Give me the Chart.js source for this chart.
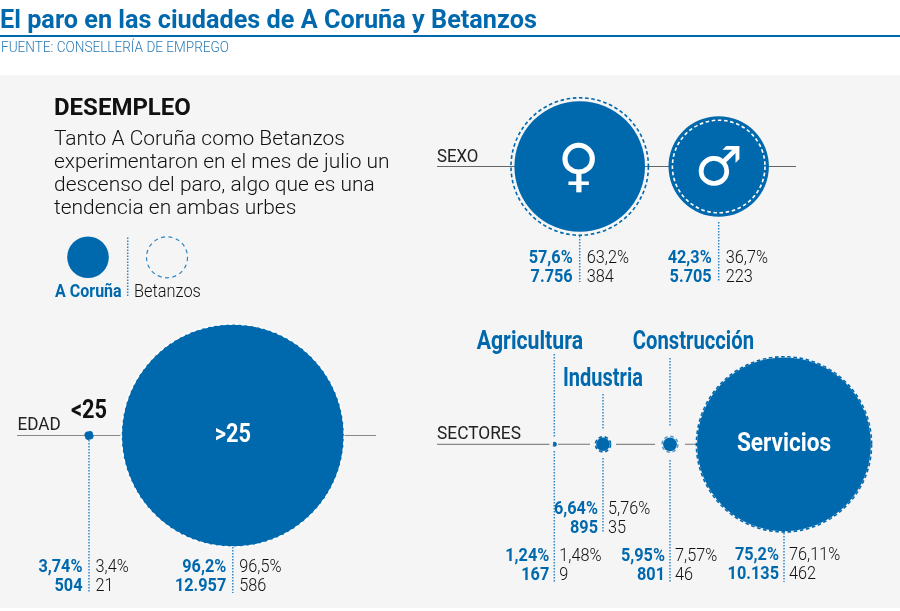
<!DOCTYPE html>
<html lang="es">
<head>
<meta charset="utf-8">
<title>El paro en las ciudades de A Coruña y Betanzos</title>
<script src="https://cdn.jsdelivr.net/npm/chart.js@4"></script>
<style>
  html, body { margin: 0; padding: 0; background: #fff; }
  canvas { display: block; }
</style>
</head>
<body>
<canvas id="paroChart" width="900" height="611"></canvas>
<script>
// values
var sexCategories = ['♀', '♂'];
var sexCoruPct = [57.6, 42.3];
var sexCoruCount = [7756, 5705];
var sexBetaPct = [63.2, 36.7];
var sexBetaCount = [384, 223];

var ageCategories = ['<25', '>25'];
var ageCoruPct = [3.74, 96.2];
var ageCoruCount = [504, 12957];
var ageBetaPct = [3.4, 96.5];
var ageBetaCount = [21, 586];

var sectorCategories = ['Agricultura', 'Industria', 'Construcción', 'Servicios'];
var sectorCoruPct = [1.24, 6.64, 5.95, 75.2];
var sectorCoruCount = [167, 895, 801, 10135];
var sectorBetaPct = [1.48, 5.76, 7.57, 76.11];
var sectorBetaCount = [9, 35, 46, 462];

var cityNames = ['A Coruña', 'Betanzos'];
var groupNames = ['SEXO', 'EDAD', 'SECTORES'];
var headline = 'El paro en las ciudades de A Coruña y Betanzos';
var source = 'FUENTE: CONSELLERÍA DE EMPREGO';
var introTitle = 'DESEMPLEO';
var introLines = [
    'Tanto A Coruña como Betanzos',
    'experimentaron en el mes de julio un',
    'descenso del paro, algo que es una',
    'tendencia en ambas urbes'
];

// layout of the sheet, in scale units (the axes run 0-900 and 0-611)
var BLUE = '#0069ae';
var RADIUS_PER_POINT = 1.155;
var sexX = [579.7, 718.7], sexY = 166.5;
var ageX = [89, 232.8], ageY = 435.5;
var sectorX = [554.3, 603, 670, 784], sectorY = 444.3;
// the sex and small sector circles are not quite to scale in the original
var sexCoruRadius = [65.3, 50.2];
var sexBetaRadius = [68.7, 46.3];
var sectorCoruRadius = [1.4, 6.8, 6.9, 86.9];
var sectorBetaRadius = [1.7, 7.6, 7.9, 87.6];

function percentText(v) { return String(v).replace('.', ',') + '%'; }
function countText(v) { return String(v).replace(/\B(?=(\d{3})+$)/g, '.'); }
function byPct(v) { return v * RADIUS_PER_POINT; }

function bubbles(xs, y, radii) {
    return xs.map(function (x, i) { return { x: x, y: y, r: radii[i] }; });
}

var coruPoints = bubbles(sexX, sexY, sexCoruRadius)
    .concat(bubbles(ageX, ageY, ageCoruPct.map(byPct)))
    .concat(bubbles(sectorX, sectorY, sectorCoruRadius));
var betaPoints = bubbles(sexX, sexY, sexBetaRadius)
    .concat(bubbles(ageX, ageY, ageBetaPct.map(byPct)))
    .concat(bubbles(sectorX, sectorY, sectorBetaRadius));
var betaColors = [BLUE, '#fff', BLUE, '#fff', BLUE, BLUE, '#5da0cf', BLUE];

function text(ctx, str, x, y, font, color, align, squeeze) {
    ctx.save();
    ctx.font = font;
    ctx.fillStyle = color;
    ctx.textAlign = align || 'left';
    ctx.textBaseline = 'alphabetic';
    ctx.translate(x, y);
    ctx.scale(squeeze || 1, 1);
    ctx.fillText(str, 0, 0);
    ctx.restore();
}

// one block of numbers under a bubble, either side of its dotted line
function valueBlock(ctx, x, y, gap, cp, cc, bp, bc) {
    var bold = '700 18.5px Roboto', light = '300 18.5px Roboto';
    text(ctx, percentText(cp), x - gap, y, bold, BLUE, 'right', 0.88);
    text(ctx, countText(cc), x - gap, y + 18.6, bold, BLUE, 'right', 0.88);
    text(ctx, percentText(bp), x + gap, y, light, '#111', 'left', 0.88);
    text(ctx, countText(bc), x + gap, y + 18.6, light, '#111', 'left', 0.88);
}

var sheetPlugin = {
    id: 'sheet',
    beforeDraw: function (chart) {
        var ctx = chart.ctx, sy = chart.scales.y;
        ctx.save();
        ctx.fillStyle = '#fff';
        ctx.fillRect(0, 0, chart.width, chart.height);
        ctx.fillStyle = '#f5f5f5';
        ctx.fillRect(0, sy.getPixelForValue(75), chart.width, sy.getPixelForValue(608) - sy.getPixelForValue(75));
        ctx.restore();
    },
    beforeDatasetsDraw: function (chart) {
        var ctx = chart.ctx, sx = chart.scales.x, sy = chart.scales.y;
        function hline(x0, x1, y, color) {
            ctx.beginPath();
            ctx.strokeStyle = color;
            ctx.lineWidth = 1.2;
            ctx.moveTo(sx.getPixelForValue(x0), sy.getPixelForValue(y));
            ctx.lineTo(sx.getPixelForValue(x1), sy.getPixelForValue(y));
            ctx.stroke();
        }
        ctx.save();
        hline(437, 796, sexY, '#666');
        hline(17, 376, ageY, '#888');
        hline(437, 549.5, sectorY, '#888');
        hline(558, 590, sectorY, '#888');
        hline(616, 655, sectorY, '#888');
        hline(685, 700, sectorY, '#888');
        ctx.restore();
    },
    beforeDatasetDraw: function (chart, args) {
        var dash = chart.data.datasets[args.index].ringDash;
        chart.ctx.setLineDash(dash || []);
    },
    afterDatasetDraw: function (chart) {
        chart.ctx.setLineDash([]);
    },
    afterDatasetsDraw: function (chart) {
        var ctx = chart.ctx, sx = chart.scales.x, sy = chart.scales.y;
        function dotted(x, y0, y1) {
            ctx.beginPath();
            ctx.strokeStyle = '#2f86c4';
            ctx.lineWidth = 1.5;
            ctx.setLineDash([1.5, 1.5]);
            ctx.moveTo(sx.getPixelForValue(x), sy.getPixelForValue(y0));
            ctx.lineTo(sx.getPixelForValue(x), sy.getPixelForValue(y1));
            ctx.stroke();
            ctx.setLineDash([]);
        }
        ctx.save();
        dotted(127.7, 237.5, 297);
        dotted(sexX[0], 236, 282);
        dotted(sexX[1], 222, 282);
        dotted(ageX[0], 440, 592);
        dotted(ageX[1], 547, 593);
        dotted(sectorX[0], 354, 438);
        dotted(sectorX[0], 451, 582);
        dotted(sectorX[1], 394, 430);
        dotted(sectorX[1], 458, 533);
        dotted(sectorX[2], 358, 427);
        dotted(sectorX[2], 460, 582);
        dotted(sectorX[3], 533, 582);

        // header
        ctx.fillStyle = BLUE;
        ctx.fillRect(0, 35, chart.width, 2);
        text(ctx, headline, 0, 28, '700 25px Roboto', BLUE, 'left', 1.01);
        text(ctx, source, 1, 51.5, '300 14px Roboto', '#2a7ab5', 'left', 0.97);

        // intro
        text(ctx, introTitle, 54, 115, '700 24px Roboto', '#111');
        introLines.forEach(function (line, i) {
            text(ctx, line, 54, 144.5 + i * 23, '300 20.95px Roboto', '#111');
        });
        text(ctx, cityNames[0], 55, 296.7, '700 18px Roboto', BLUE, 'left', 0.89);
        text(ctx, cityNames[1], 134, 296.7, '300 18px Roboto', '#111', 'left', 0.91);

        // group names
        var groupFont = '400 17.5px Roboto';
        text(ctx, groupNames[0], 437, 161.7, groupFont, '#222', 'left', 0.96);
        text(ctx, groupNames[1], 17.5, 430, groupFont, '#222', 'left', 0.98);
        text(ctx, groupNames[2], 437, 439, groupFont, '#222', 'left', 0.99);

        // bubble names
        text(ctx, sexCategories[0], sexX[0] - 1, 185, '58px "DejaVu Sans"', '#fff', 'center');
        text(ctx, sexCategories[1], sexX[1], 185, '54px "DejaVu Sans"', '#fff', 'center');
        var nameFont = '700 25px Roboto';
        text(ctx, ageCategories[0], ageX[0], 418, nameFont, '#111', 'center', 0.87);
        text(ctx, ageCategories[1], ageX[1], 441.7, nameFont, '#fff', 'center', 0.87);
        text(ctx, sectorCategories[0], 476.7, 349, nameFont, BLUE, 'left', 0.85);
        text(ctx, sectorCategories[1], 563, 386, nameFont, BLUE, 'left', 0.8);
        text(ctx, sectorCategories[2], 632.7, 349, nameFont, BLUE, 'left', 0.81);
        text(ctx, sectorCategories[3], sectorX[3], 450.7, '700 26px Roboto', '#fff', 'center', 0.87);

        // numbers
        sexX.forEach(function (x, i) {
            valueBlock(ctx, x, 263, 7, sexCoruPct[i], sexCoruCount[i], sexBetaPct[i], sexBetaCount[i]);
        });
        ageX.forEach(function (x, i) {
            valueBlock(ctx, x, 572, 6.5, ageCoruPct[i], ageCoruCount[i], ageBetaPct[i], ageBetaCount[i]);
        });
        var sectorRowY = [561, 514.3, 561, 560];
        sectorX.forEach(function (x, i) {
            valueBlock(ctx, x, sectorRowY[i], 5, sectorCoruPct[i], sectorCoruCount[i], sectorBetaPct[i], sectorBetaCount[i]);
        });
        ctx.restore();
    }
};

// Chart.js paints the first dataset last, so the rings go first to sit on top
new Chart(document.getElementById('paroChart').getContext('2d'), {
    type: 'bubble',
    plugins: [sheetPlugin],
    data: {
        datasets: [{
            label: cityNames[1],
            data: betaPoints,
            backgroundColor: 'rgba(0,0,0,0)',
            borderColor: betaColors,
            borderWidth: 1.6,
            ringDash: [3.6, 2.6]
        }, {
            label: cityNames[0],
            data: coruPoints,
            backgroundColor: BLUE,
            borderWidth: 0
        }, {
            label: 'key ' + cityNames[0],
            data: [{ x: 88, y: 257.3, r: 20.8 }],
            backgroundColor: BLUE,
            borderWidth: 0
        }, {
            label: 'key ' + cityNames[1],
            data: [{ x: 167, y: 257.3, r: 20.5 }],
            backgroundColor: 'rgba(0,0,0,0)',
            borderColor: '#2f86c4',
            borderWidth: 1.2,
            ringDash: [4, 3.5]
        }]
    },
    options: {
        responsive: false,
        animation: false,
        events: [],
        layout: { padding: 0, autoPadding: false },
        plugins: { legend: { display: false }, tooltip: { enabled: false } },
        scales: {
            x: { type: 'linear', min: 0, max: 900, display: false },
            y: { type: 'linear', min: 0, max: 611, reverse: true, display: false }
        }
    }
});
</script>
</body>
</html>
